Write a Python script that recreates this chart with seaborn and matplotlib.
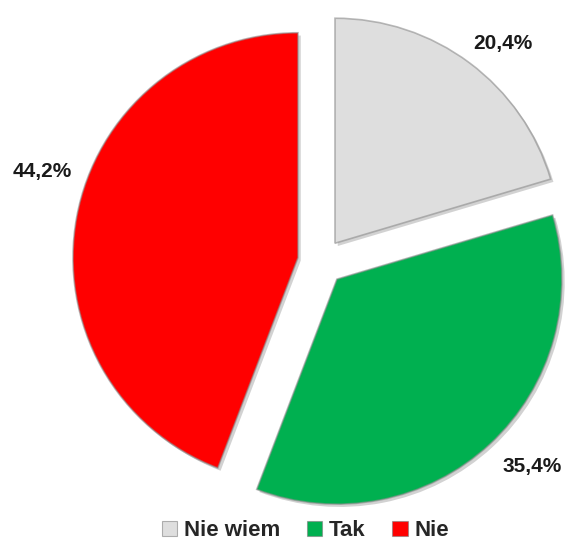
import matplotlib
matplotlib.use("Agg")
import matplotlib.pyplot as plt
import matplotlib.patheffects as pe
from matplotlib.patches import Patch
import seaborn as sns

categories = ["Nie wiem", "Tak", "Nie"]
shares = [20.4, 35.4, 44.2]
colors = ["#DEDEDE", "#00B050", "#FF0000"]

sns.set_theme(style="white")
plt.rcParams["font.family"] = ["Liberation Sans", "DejaVu Sans"]

W, H = 582, 547
fig = plt.figure(figsize=(W / 100, H / 100), dpi=100)
ax = fig.add_axes([0, 0, 1, 1])

wedges, texts, autotexts = ax.pie(
    shares,
    colors=sns.color_palette(colors),
    startangle=90,
    counterclock=False,
    explode=[0.104, 0.104, 0.104],
    radius=1.0,
    autopct=lambda p: f"{p:.1f}%".replace(".", ","),
    pctdistance=1.2,
    wedgeprops=dict(edgecolor=(0.55, 0.55, 0.55, 0.6), linewidth=1.2),
    textprops=dict(fontsize=15, fontweight="bold", color="#1a1a1a"),
    frame=False,
)
for w in wedges:
    w.set_path_effects([
        pe.SimplePatchShadow(offset=(2, -2), shadow_rgbFace="#808080", alpha=0.35),
        pe.Normal(),
    ])

# value labels sit just outside each slice (data units, radius = 1)
label_anchors = [(0.81, 0.97), (0.94, -0.91), (-1.24, 0.40)]
for t, (lx, ly) in zip(autotexts, label_anchors):
    t.set_position((lx, ly))

# pie centre and radius in pixels
cx, cy, R = 321, 262, 225
ax.set_aspect("auto")
ax.set_xlim(-cx / R, (W - cx) / R)
ax.set_ylim(-(H - cy) / R, cy / R)
ax.set_axis_off()

handles = [Patch(facecolor=c, edgecolor=(0.5, 0.5, 0.5, 0.6), linewidth=0.8) for c in colors]
fig.legend(
    handles, categories,
    loc="center", bbox_to_anchor=(0.525, 0.03),
    ncol=3, frameon=False,
    handlelength=0.7, handleheight=0.7,
    handletextpad=0.3, columnspacing=1.2,
    prop=dict(size=16, weight="bold"),
)

fig.savefig("out.png", dpi=100)
